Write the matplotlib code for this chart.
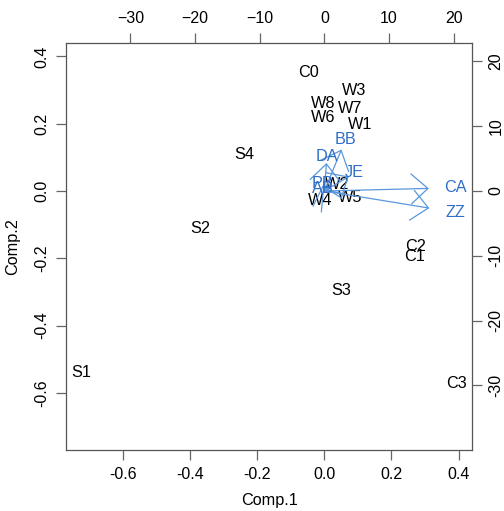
import matplotlib
matplotlib.use('Agg')
import matplotlib.pyplot as plt

plt.rcParams['font.family'] = ['Liberation Sans', 'DejaVu Sans']

# Scores (Comp.1, Comp.2) for the observations
obs_labels = ['C0', 'W3', 'W8', 'W7', 'W6', 'W1', 'S4', 'S2', 'S1', 'S3',
              'C2', 'C1', 'C3', 'W2', 'W4', 'W5']
obs_x = [-0.046, 0.088, -0.004, 0.076, -0.004, 0.107, -0.239, -0.370, -0.726, 0.049,
         0.272, 0.270, 0.394, 0.037, -0.013, 0.078]
obs_y = [0.351, 0.300, 0.260, 0.245, 0.220, 0.198, 0.110, -0.111, -0.541, -0.296,
         -0.165, -0.195, -0.571, 0.020, -0.028, -0.020]

# Variable loadings (scaled, top/right axes)
var_labels = ['CA', 'ZZ', 'BB', 'DA', 'JE', 'PB', 'AB']
var_x = [20.2, 20.3, 3.3, 0.4, 4.7, -0.3, -0.3]
var_y = [0.5, -3.3, 8.0, 5.4, 2.8, 1.1, 0.4]

lim = (-0.770, 0.440)
k = 51.9  # ratio between loading and score scales

fig = plt.figure(figsize=(5.04, 5.11), dpi=100)
pos = [66 / 504, 61 / 511, 406 / 504, 407 / 511]
ax = fig.add_axes(pos)
ax.set_xlim(lim)
ax.set_ylim(lim)

for lab, x, y in zip(obs_labels, obs_x, obs_y):
    ax.text(x, y, lab, ha='center', va='center', fontsize=11.7, color='black')

ax.set_xticks([-0.6, -0.4, -0.2, 0.0, 0.2, 0.4])
ax.set_yticks([-0.6, -0.4, -0.2, 0.0, 0.2, 0.4])
ax.set_xticklabels(['-0.6', '-0.4', '-0.2', '0.0', '0.2', '0.4'])
ax.set_yticklabels(['-0.6', '-0.4', '-0.2', '0.0', '0.2', '0.4'], rotation=90, va='center')
ax.tick_params(length=7, width=0.9, color='#666666', labelsize=11.5, pad=5)
ax.set_xlabel('Comp.1', fontsize=11.7, labelpad=8)
ax.set_ylabel('Comp.2', fontsize=11.7, labelpad=10)
for s in ax.spines.values():
    s.set_color('#555555')
    s.set_linewidth(0.9)

# Second axes for the loading arrows
ax2 = fig.add_axes(pos, frameon=False)
ax2.set_xlim(lim[0] * k, lim[1] * k)
ax2.set_ylim(lim[0] * k, lim[1] * k)
ax2.xaxis.tick_top()
ax2.yaxis.tick_right()
ax2.set_xticks([-30, -20, -10, 0, 10, 20])
ax2.set_yticks([-30, -20, -10, 0, 10, 20])
ax2.set_yticklabels(['-30', '-20', '-10', '0', '10', '20'], rotation=90, va='center')
ax2.tick_params(length=7, width=0.9, color='#666666', labelsize=11.5, pad=5)

blue_line = '#5a97dc'
blue_text = '#2f6fc8'
for lab, x, y in zip(var_labels, var_x, var_y):
    ax2.annotate('', xy=(0.8 * x, 0.8 * y), xytext=(0, 0),
                 arrowprops=dict(arrowstyle='->,head_length=1.0,head_width=0.9',
                                 mutation_scale=12, color=blue_line, lw=0.9,
                                 shrinkA=0, shrinkB=0))
    ax2.text(x, y, lab, ha='center', va='center', fontsize=11.7, color=blue_text)

plt.savefig('out.png', dpi=100)
